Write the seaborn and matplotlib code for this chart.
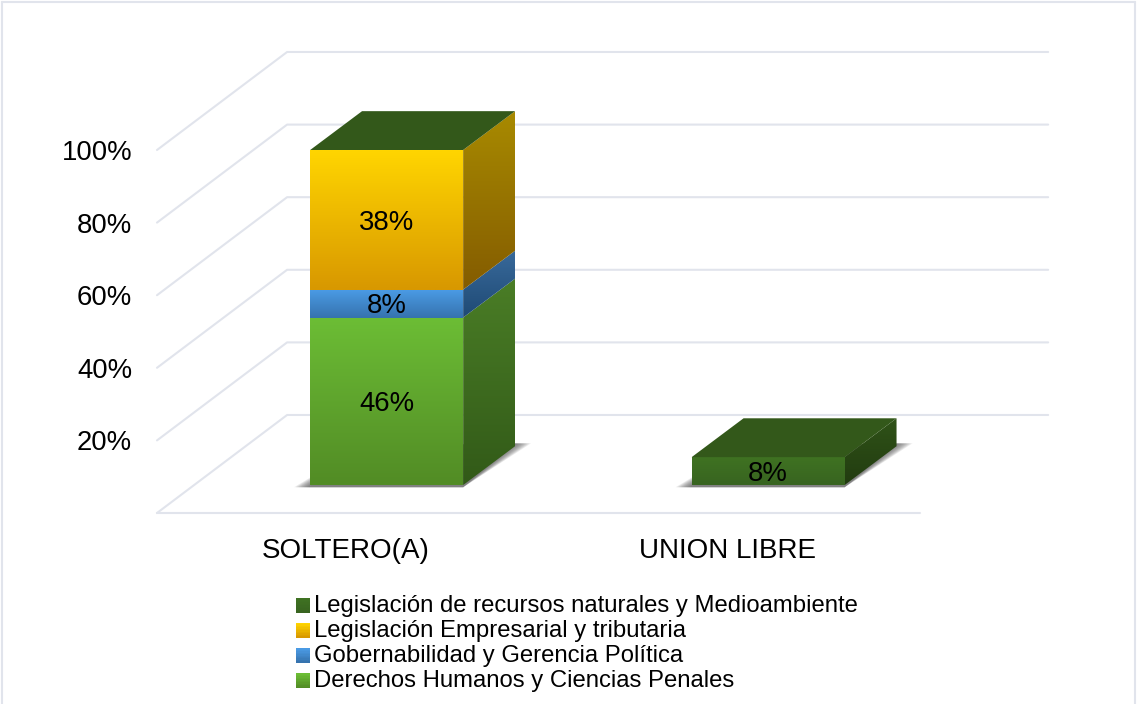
import matplotlib
matplotlib.use("Agg")
import matplotlib.pyplot as plt
from matplotlib.colors import LinearSegmentedColormap
from matplotlib.legend_handler import HandlerBase
from matplotlib.lines import Line2D
from matplotlib.patches import Patch, Polygon, Rectangle
from matplotlib.transforms import ScaledTranslation
import numpy as np
import pandas as pd
import seaborn as sns

# --- data ---
estados = ["SOLTERO(A)", "UNION LIBRE"]
areas = [
    "Derechos Humanos y Ciencias Penales",
    "Gobernabilidad y Gerencia Política",
    "Legislación Empresarial y tributaria",
    "Legislación de recursos naturales y Medioambiente",
]
derechos = [46.15, 0]
gobernabilidad = [7.69, 0]
empresarial = [38.46, 0]
recursos = [0, 7.69]
y_ticks = [20, 40, 60, 80, 100]

# (top, bottom) colours of the front and side face of each series
front_cols = [("#6cbd35", "#528c25"), ("#4a9ae4", "#3673ae"), ("#ffd500", "#d89800"), ("#3f7222", "#386420")]
side_cols = [("#4a7d26", "#325a18"), ("#38699a", "#1f4a75"), ("#a88a00", "#845c00"), ("#2f5218", "#223c10")]
top_col = "#33581a"
grid_col = "#e1e4ec"

# depth of the fake 3d floor, in data units
WALL_DX, WALL_DY = 0.341, 27.0
FRONT_DX, FRONT_DY = 0.102, 7.7
BAR_DX, BAR_DY = 0.136, 10.7
BAR_W = 0.401

sns.set_theme(style="white")
plt.rcParams["font.family"] = ["Liberation Sans", "DejaVu Sans"]

df = pd.DataFrame({
    "estado": estados * 4,
    "area": np.repeat(areas, 2),
    "pct": derechos + gobernabilidad + empresarial + recursos,
})

fig = plt.figure(figsize=(11.38, 7.04), dpi=100, facecolor="white")
ax = fig.add_axes([157 / 1138, 191 / 704, 763 / 1138, 363 / 704])


def gradient_fill(xy, cols, z):
    cmap = LinearSegmentedColormap.from_list("g", cols)
    xy = np.array(xy)
    im = ax.imshow(np.linspace(0, 1, 64).reshape(-1, 1), cmap=cmap, aspect="auto", origin="upper",
                   extent=[xy[:, 0].min(), xy[:, 0].max(), xy[:, 1].min(), xy[:, 1].max()],
                   interpolation="bilinear", zorder=z)
    clip = Polygon(xy, closed=True, transform=ax.transData, facecolor="none", edgecolor="none", clip_on=False)
    ax.add_patch(clip)
    # the box rises above the axes top, so only the polygon may clip it
    im.set_clip_box(fig.bbox)
    im.set_clip_path(clip)


# stacked front faces
bottoms = np.zeros(len(estados))
for area, cols in zip(areas, front_cols):
    sub = df[df["area"] == area]
    sns.barplot(data=sub, x="estado", y="pct", order=estados, color=cols[0], width=BAR_W,
                bottom=bottoms, saturation=1, errorbar=None, ax=ax, zorder=3, linewidth=0)
    bottoms = bottoms + sub["pct"].to_numpy()

# back wall, side wall and floor
for v in [0] + y_ticks:
    ax.plot([-0.5, -0.5 + WALL_DX, 1.5 + WALL_DX - 0.005], [v, v + WALL_DY, v + WALL_DY],
            color=grid_col, lw=1.5, zorder=1, clip_on=False)
ax.plot([-0.5, 1.5], [0, 0], color=grid_col, lw=1.5, zorder=1, clip_on=False)

# ground shadow under each bar
for i in range(len(estados)):
    x0 = i - BAR_W / 2 + FRONT_DX
    x1 = i + BAR_W / 2 + FRONT_DX
    for e in np.linspace(0.042, 0.004, 10):
        ax.add_patch(Polygon([(x0 - e, FRONT_DY - 0.6), (x1, FRONT_DY - 0.6),
                              (x1 + BAR_DX + e, FRONT_DY + BAR_DY + 0.8), (x0 + BAR_DX, FRONT_DY + BAR_DY)],
                             closed=True, facecolor="#444444", edgecolor="none", alpha=0.1, zorder=2))

# turn flat bars into boxes
tops = {}
for s, cont in enumerate(ax.containers):
    for bar in cont:
        x, y, w, h = bar.get_x(), bar.get_y(), bar.get_width(), bar.get_height()
        x, y = x + FRONT_DX, y + FRONT_DY
        bar.set_x(x)
        bar.set_y(y)
        bar.set_clip_on(False)
        tops[round(x, 3)] = (x, w, max(y + h, tops.get(round(x, 3), (0, 0, 0))[2]))
        if h <= 0:
            continue
        gradient_fill([(x, y), (x + w, y), (x + w, y + h), (x, y + h)], front_cols[s], 4)
        gradient_fill([(x + w, y), (x + w + BAR_DX, y + BAR_DY), (x + w + BAR_DX, y + h + BAR_DY), (x + w, y + h)],
                      side_cols[s], 4)
        ax.text(x + w / 2, y + h / 2 - 0.8, f"{h:.0f}%", ha="center", va="center", fontsize=19.8,
                color="black", zorder=6)

for x, w, y in tops.values():
    ax.add_patch(Polygon([(x, y), (x + w, y), (x + w + BAR_DX, y + BAR_DY), (x + BAR_DX, y + BAR_DY)],
                         closed=True, facecolor=top_col, edgecolor="none", zorder=5, clip_on=False))

ax.set_xlim(-0.5, 1.5)
ax.set_ylim(0, 100)
ax.set_yticks(y_ticks)
ax.set_yticklabels([f"{v}%" for v in y_ticks])
ax.set_xlabel("")
ax.set_ylabel("")
ax.tick_params(axis="y", length=0, pad=18, labelsize=19.8, colors="black")
ax.tick_params(axis="x", length=0, pad=18, labelsize=20, colors="black")
for lab in ax.get_xticklabels():
    lab.set_transform(lab.get_transform() + ScaledTranslation(-1.5 / 72, 0, fig.dpi_scale_trans))
ax.patch.set_alpha(0)
sns.despine(ax=ax, left=True, bottom=True)


class GradientHandler(HandlerBase):
    def create_artists(self, legend, orig, xd, yd, width, height, fontsize, trans):
        cmap = LinearSegmentedColormap.from_list("g", orig.cols)
        n = 10
        return [Rectangle((xd, yd + height * (1 - (k + 1) / n)), width, height / n + 0.2, facecolor=cmap(k / (n - 1)),
                          edgecolor="none", transform=trans) for k in range(n)]


handles = []
for cols in front_cols:
    h = Patch(label="")
    h.cols = cols
    handles.append(h)

ax.legend(handles[::-1], areas[::-1], handler_map={Patch: GradientHandler()}, loc="upper left",
          bbox_to_anchor=(296 / 1138, 1 - 595 / 704), bbox_transform=fig.transFigure, frameon=False,
          fontsize=17.2, labelcolor="black", handlelength=0.58, handleheight=0.58, handletextpad=0.17,
          labelspacing=0.13, borderpad=0, borderaxespad=0)

# outer chart frame
for xs, ys in [([2, 1135], [2, 2]), ([2, 2], [2, 704]), ([1135, 1135], [2, 704])]:
    fig.add_artist(Line2D(np.array(xs) / 1138, 1 - np.array(ys) / 704, color=grid_col, lw=1.5))

fig.savefig("out.png", dpi=100)
